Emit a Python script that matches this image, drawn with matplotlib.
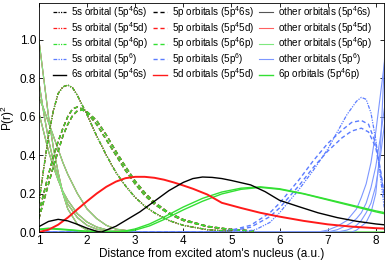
import numpy as np
import matplotlib
matplotlib.use('Agg')
import matplotlib.pyplot as plt
from matplotlib.lines import Line2D

plt.rcParams['font.family'] = ['Liberation Sans', 'DejaVu Sans']
plt.rcParams['mathtext.fontset'] = 'custom'
plt.rcParams['mathtext.rm'] = 'Liberation Sans'

# ---- data ----
# 5s orbital of the excited atom (5p^4 configs)
x_5s = [1.0, 1.1, 1.2, 1.3, 1.4, 1.5, 1.6, 1.7, 1.8, 1.9, 2.0, 2.2, 2.4, 2.6, 2.8, 3.0, 3.2, 3.4, 3.7, 4.0, 4.5, 5.0]
y_5s = [0.15, 0.33, 0.5, 0.63, 0.72, 0.755, 0.764, 0.75, 0.71, 0.66, 0.61, 0.5, 0.4, 0.31, 0.24, 0.18, 0.135, 0.1, 0.06, 0.035, 0.012, 0.004]

# 5p orbitals of the excited atom (two close curves)
x_5p = [1.0, 1.1, 1.2, 1.3, 1.4, 1.5, 1.6, 1.7, 1.8, 1.9, 2.0, 2.2, 2.4, 2.6, 2.8, 3.0, 3.2, 3.4, 3.7, 4.0, 4.5, 5.0, 5.5]
y_5p_a = [0.1, 0.2, 0.3, 0.39, 0.47, 0.54, 0.6, 0.64, 0.65, 0.64, 0.62, 0.56, 0.48, 0.4, 0.32, 0.25, 0.19, 0.145, 0.095, 0.06, 0.028, 0.012, 0.004]
y_5p_b = [0.07, 0.16, 0.25, 0.34, 0.42, 0.5, 0.56, 0.605, 0.63, 0.634, 0.625, 0.58, 0.505, 0.42, 0.34, 0.265, 0.205, 0.155, 0.1, 0.065, 0.03, 0.013, 0.005]

# other (core) orbitals of the excited atom
x_oth = [1.0, 1.1, 1.2, 1.3, 1.4, 1.5, 1.6, 1.8, 2.0, 2.2, 2.4, 2.6, 3.0, 8.2]
y_oth_1 = [1.0, 0.8, 0.6, 0.44, 0.31, 0.2, 0.12, 0.04, 0.01, 0.003, 0.0, 0.0, 0.0, 0.0]
y_oth_2 = [0.78, 0.62, 0.48, 0.37, 0.28, 0.2, 0.145, 0.075, 0.035, 0.015, 0.006, 0.002, 0.0, 0.0]
y_oth_3 = [0.62, 0.52, 0.42, 0.34, 0.27, 0.21, 0.165, 0.095, 0.052, 0.026, 0.012, 0.005, 0.0, 0.0]
y_oth_4 = [0.7, 0.64, 0.57, 0.5, 0.43, 0.36, 0.3, 0.2, 0.12, 0.07, 0.035, 0.015, 0.002, 0.0]

# 6s orbital (5p^4 6s)
x_6s = [1.0, 1.2, 1.4, 1.6, 1.8, 2.0, 2.2, 2.3, 2.6, 2.9, 3.1, 3.4, 3.7, 4.0, 4.2, 4.4, 4.6, 4.8, 5.0, 5.4, 5.7, 6.0, 6.4, 6.8, 7.2, 7.6, 8.0, 8.2]
y_6s = [0.028, 0.055, 0.066, 0.058, 0.04, 0.02, 0.004, 0.0, 0.03, 0.075, 0.105, 0.16, 0.215, 0.258, 0.278, 0.286, 0.284, 0.278, 0.268, 0.245, 0.21, 0.165, 0.132, 0.1, 0.075, 0.056, 0.042, 0.037]

# 5d orbitals (5p^4 5d)
x_5d = [1.0, 1.2, 1.4, 1.6, 1.8, 2.0, 2.2, 2.4, 2.6, 2.8, 3.0, 3.2, 3.4, 3.6, 3.8, 4.0, 4.2, 4.5, 4.8, 5.2, 5.6, 6.0, 6.5, 7.0, 7.5, 8.0, 8.2]
y_5d = [0.0, 0.012, 0.038, 0.075, 0.118, 0.16, 0.2, 0.235, 0.262, 0.28, 0.287, 0.287, 0.282, 0.272, 0.258, 0.242, 0.225, 0.195, 0.152, 0.125, 0.1, 0.08, 0.058, 0.04, 0.028, 0.02, 0.018]

# 6p orbitals (5p^4 6p), two close curves
x_6p = [1.0, 1.2, 1.5, 2.0, 2.5, 2.8, 3.0, 3.3, 3.6, 4.0, 4.4, 4.8, 5.2, 5.6, 6.0, 6.5, 7.0, 7.5, 8.0, 8.2]
y_6p_a = [0.015, 0.02, 0.015, 0.004, 0.0, 0.006, 0.016, 0.042, 0.078, 0.13, 0.175, 0.208, 0.228, 0.235, 0.225, 0.2, 0.17, 0.14, 0.11, 0.1]
y_6p_b = [0.012, 0.017, 0.012, 0.003, 0.0, 0.003, 0.01, 0.032, 0.065, 0.115, 0.16, 0.198, 0.222, 0.232, 0.222, 0.198, 0.167, 0.136, 0.105, 0.094]

# neighbouring atom (5p^6)
x_b5s = [1.0, 5.2, 5.5, 5.8, 6.0, 6.2, 6.4, 6.7, 7.0, 7.2, 7.4, 7.6, 7.7, 7.8, 7.9, 8.0, 8.1, 8.2]
y_b5s = [0.0, 0.0, 0.012, 0.05, 0.1, 0.16, 0.22, 0.32, 0.43, 0.52, 0.61, 0.68, 0.7, 0.69, 0.62, 0.48, 0.28, 0.08]
x_b5p = [1.0, 4.6, 5.0, 5.4, 5.8, 6.0, 6.4, 6.7, 7.0, 7.3, 7.5, 7.7, 7.85, 8.0, 8.1, 8.2]
y_b5p_a = [0.0, 0.0, 0.01, 0.035, 0.1, 0.15, 0.27, 0.37, 0.46, 0.53, 0.57, 0.58, 0.56, 0.46, 0.32, 0.15]
y_b5p_b = [0.0, 0.0, 0.006, 0.025, 0.08, 0.125, 0.24, 0.335, 0.42, 0.49, 0.525, 0.54, 0.52, 0.44, 0.31, 0.15]
x_both = [1.0, 6.8, 7.0, 7.2, 7.4, 7.5, 7.6, 7.7, 7.8, 7.9, 8.0, 8.1, 8.2]
y_both_1 = [0.0, 0.0, 0.01, 0.03, 0.06, 0.09, 0.12, 0.18, 0.25, 0.36, 0.52, 0.72, 0.92]
y_both_2 = [0.0, 0.0, 0.0, 0.012, 0.035, 0.05, 0.07, 0.1, 0.15, 0.23, 0.34, 0.5, 0.68]
y_both_3 = [0.0, 0.0, 0.0, 0.0, 0.01, 0.02, 0.035, 0.06, 0.1, 0.15, 0.24, 0.4, 0.6]
y_both_4 = [0.0, 0.0, 0.0, 0.0, 0.0, 0.0, 0.01, 0.03, 0.05, 0.1, 0.2, 0.45, 1.0]

# ---- styles ----
c_6s = 'black'
c_5d = '#ff1a1a'
c_6p = '#33e033'
c_6p_lt = '#7fe87f'
c_5p6 = '#5b7cff'
c_5p6_lt = '#7d97ff'
dd = (0, (3, 1, 1, 1, 1, 1))
dsh = (0, (3, 2))

fig = plt.figure(figsize=(3.89, 2.61), dpi=100)
ax = fig.add_axes([0.1, 0.111, 0.887, 0.877])

# other orbitals (thin); black and red lie under the green ones
for col in ['#555555', '#ff6060', c_6p_lt]:
    for yy in [y_oth_1, y_oth_2, y_oth_3, y_oth_4]:
        ax.plot(x_oth, yy, '-', color=col, lw=0.8)
for yy in [y_both_1, y_both_2, y_both_3, y_both_4]:
    ax.plot(x_both, yy, '-', color=c_5p6_lt, lw=0.8)

# 5p dashed
for col in [c_6s, c_5d, c_6p]:
    ax.plot(x_5p, y_5p_b, linestyle=dsh, color=col, lw=1.0)
    ax.plot(x_5p, y_5p_a, linestyle=dsh, color=col, lw=1.0)
ax.plot(x_b5p, y_b5p_a, linestyle=dsh, color=c_5p6, lw=1.0)
ax.plot(x_b5p, y_b5p_b, linestyle=dsh, color=c_5p6, lw=1.0)

# 5s dash-dot-dot
for col in [c_6s, c_5d, c_6p]:
    ax.plot(x_5s, y_5s, linestyle=dd, color=col, lw=0.9)
ax.plot(x_b5s, y_b5s, linestyle=dd, color=c_5p6, lw=0.9)

# valence orbitals
ax.plot(x_6p, y_6p_a, '-', color=c_6p, lw=1.0)
ax.plot(x_6p, y_6p_b, '-', color=c_6p, lw=1.0)
ax.plot(x_5d, y_5d, '-', color=c_5d, lw=1.4)
ax.plot(x_6s, y_6s, '-', color=c_6s, lw=1.0)

ax.set_xlim(1, 8.17)
ax.set_ylim(0, 1.19)
ax.set_xticks(range(1, 9))
ax.set_yticks([0.0, 0.2, 0.4, 0.6, 0.8, 1.0])
ax.set_yticklabels(['0.0', '0.2', '0.4', '0.6', '0.8', '1.0'])
ax.tick_params(direction='in', top=True, right=True, labelsize=8.5, length=3, width=0.6, pad=2)
for s in ax.spines.values():
    s.set_linewidth(0.6)
ax.set_xlabel("Distance from excited atom's nucleus (a.u.)", fontsize=8.5, labelpad=1)
ax.set_ylabel('P(r)$^2$', fontsize=8.5, labelpad=2)

handles = [
    Line2D([], [], color=c_6s, ls=dd, lw=0.9), Line2D([], [], color=c_5d, ls=dd, lw=0.9),
    Line2D([], [], color=c_6p, ls=dd, lw=0.9), Line2D([], [], color=c_5p6, ls=dd, lw=0.9),
    Line2D([], [], color=c_6s, ls='-', lw=1.0),
    Line2D([], [], color=c_6s, ls=dsh, lw=1.0), Line2D([], [], color=c_5d, ls=dsh, lw=1.0),
    Line2D([], [], color=c_6p, ls=dsh, lw=1.0), Line2D([], [], color=c_5p6, ls=dsh, lw=1.0),
    Line2D([], [], color=c_5d, ls='-', lw=1.0),
    Line2D([], [], color='#555555', ls='-', lw=0.8), Line2D([], [], color='#ff6060', ls='-', lw=0.8),
    Line2D([], [], color=c_6p_lt, ls='-', lw=0.8), Line2D([], [], color=c_5p6_lt, ls='-', lw=0.8),
    Line2D([], [], color=c_6p, ls='-', lw=1.0),
]
labels = [
    '5s orbital (5p$^4$6s)', '5s orbital (5p$^4$5d)', '5s orbital (5p$^4$6p)', '5s orbital (5p$^6$)',
    '6s orbital (5p$^4$6s)',
    '5p orbitals (5p$^4$6s)', '5p orbitals (5p$^4$5d)', '5p orbitals (5p$^4$6p)', '5p orbitals (5p$^6$)',
    '5d orbitals (5p$^4$5d)',
    'other orbitals (5p$^4$6s)', 'other orbitals (5p$^4$5d)', 'other orbitals (5p$^4$6p)', 'other orbitals (5p$^6$)',
    '6p orbitals (5p$^4$6p)',
]
ax.legend(handles, labels, ncol=3, loc='upper left', bbox_to_anchor=(0.037, 1.0), frameon=False,
          fontsize=7.1, handlelength=1.4, handletextpad=0.5, columnspacing=0.5, labelspacing=-0.02,
          borderaxespad=0.05, borderpad=0.05)

fig.savefig('out.png', dpi=100)
